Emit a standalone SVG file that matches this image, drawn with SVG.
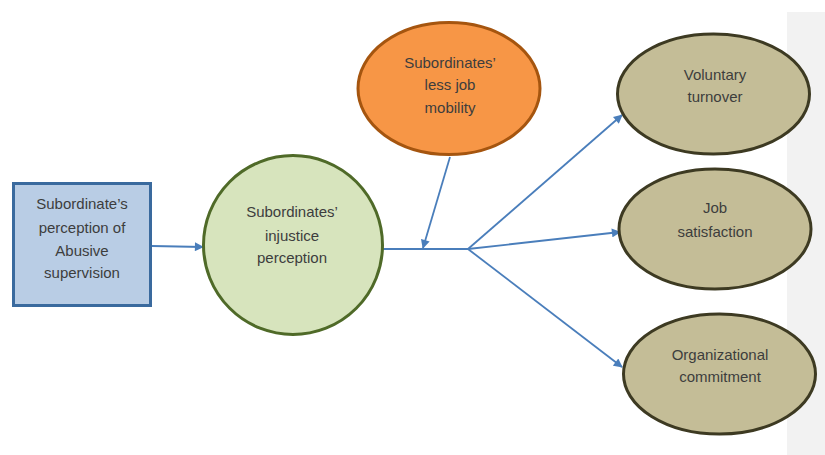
<svg xmlns="http://www.w3.org/2000/svg" width="825" height="455" viewBox="0 0 825 455">
  <style>
    .lbl { font-family: "Liberation Sans", Arial, sans-serif; font-size: 15px; fill: #3d3d3d; text-anchor: middle; }
    .conn { stroke: #4a7ebb; stroke-width: 1.8; fill: none; }
    .outcome { fill: #c4bd97; stroke: #3d3a22; stroke-width: 3; }
  </style>
  <defs>
    <marker id="arrow" viewBox="0 0 10 10" refX="9" refY="5" markerWidth="10" markerHeight="9" orient="auto" markerUnits="userSpaceOnUse">
      <path d="M0,0 L10,5 L0,10 z" fill="#4a7ebb"/>
    </marker>
  </defs>

  <rect width="825" height="455" fill="#ffffff"/>
  <!-- page margin panel on the right -->
  <rect x="787" y="12" width="38" height="443" fill="#f2f2f2"/>

  <g id="connectors">
    <line class="conn" x1="152" y1="246" x2="203" y2="247" marker-end="url(#arrow)"/>
    <polyline class="conn" points="383,249 468,249"/>
    <line class="conn" x1="450" y1="157" x2="423" y2="248" marker-end="url(#arrow)"/>
    <line class="conn" x1="468" y1="249" x2="622" y2="115" marker-end="url(#arrow)"/>
    <line class="conn" x1="468" y1="249" x2="620" y2="232" marker-end="url(#arrow)"/>
    <line class="conn" x1="468" y1="249" x2="622" y2="367" marker-end="url(#arrow)"/>
  </g>

  <g id="abusive-supervision">
    <rect x="13.5" y="183.5" width="137" height="122" fill="#b9cde5" stroke="#3a6a9e" stroke-width="3"/>
    <text class="lbl" x="82" y="209">Subordinate’s</text>
    <text class="lbl" x="82" y="233">perception of</text>
    <text class="lbl" x="82" y="256">Abusive</text>
    <text class="lbl" x="82" y="278">supervision</text>
  </g>

  <g id="injustice-perception">
    <circle cx="293" cy="245" r="89.5" fill="#d7e4bd" stroke="#4f6a28" stroke-width="3"/>
    <text class="lbl" x="292" y="217">Subordinates’</text>
    <text class="lbl" x="292" y="241">injustice</text>
    <text class="lbl" x="292" y="263">perception</text>
  </g>

  <g id="job-mobility">
    <ellipse cx="449" cy="88.5" rx="91" ry="66" fill="#f79646" stroke="#a5550f" stroke-width="3"/>
    <text class="lbl" x="450" y="68">Subordinates’</text>
    <text class="lbl" x="450" y="90">less job</text>
    <text class="lbl" x="450" y="113">mobility</text>
  </g>

  <g id="voluntary-turnover">
    <ellipse class="outcome" cx="713.5" cy="94" rx="96" ry="60"/>
    <text class="lbl" x="715" y="80">Voluntary</text>
    <text class="lbl" x="715" y="102">turnover</text>
  </g>

  <g id="job-satisfaction">
    <ellipse class="outcome" cx="715" cy="229" rx="96" ry="60"/>
    <text class="lbl" x="715" y="213">Job</text>
    <text class="lbl" x="715" y="237">satisfaction</text>
  </g>

  <g id="organizational-commitment">
    <ellipse class="outcome" cx="719.5" cy="374" rx="96" ry="60"/>
    <text class="lbl" x="720" y="360">Organizational</text>
    <text class="lbl" x="720" y="382">commitment</text>
  </g>
</svg>
